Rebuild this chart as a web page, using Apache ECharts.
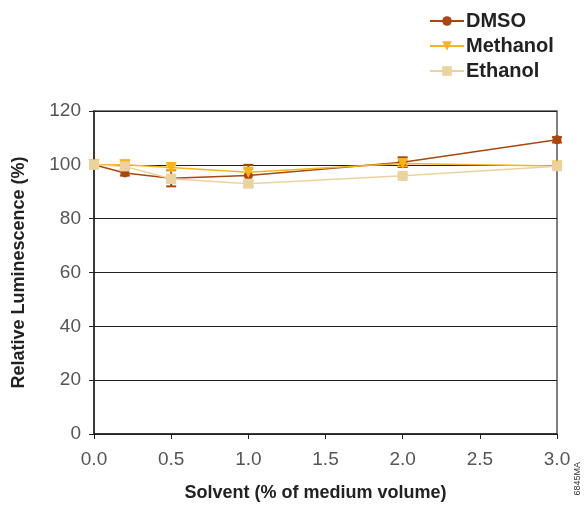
<!DOCTYPE html>
<html><head><meta charset="utf-8">
<script src="https://cdn.jsdelivr.net/npm/echarts@6/dist/echarts.min.js"></script>
<style>html,body{margin:0;padding:0;background:#fff}#c{width:587px;height:507px}</style>
</head><body><div id="c"></div>
<script>
const xValues = [0, 0.2, 0.5, 1.0, 2.0, 3.0];
const dmso = [100, 97, 95, 96, 101, 109.3];
const dmsoErr = [0, 1, 3, 4, 1.8, 1];
const methanol = [100, 100, 99, 97.2, 100.5, 99.6];
const methanolErr = [0, 1.6, 0.8, 1.2, 1, 0.5];
const ethanol = [100, 99.4, 94.8, 93, 95.9, 99.5];
const ethanolErr = [0, 1.5, 1.5, 1, 0.6, 1.2];
const seriesNames = ['DMSO', 'Methanol', 'Ethanol'];
const colors = ['#a8470f', '#f8b41a', '#ebd3a0'];

const pairs = (ys) => xValues.map((x, i) => [x, ys[i]]);
const errData = (ys, es) => xValues.map((x, i) => [x, ys[i] - es[i], ys[i] + es[i]]);

function errSeries(name, ys, es, color) {
  return {
    type: 'custom', name: name + ' error', z: 3, silent: true,
    data: errData(ys, es),
    renderItem: function (params, api) {
      const lo = api.coord([api.value(0), api.value(1)]);
      const hi = api.coord([api.value(0), api.value(2)]);
      const w = 5;
      const st = { stroke: color, lineWidth: 2 };
      return { type: 'group', children: [
        { type: 'line', shape: { x1: lo[0], y1: lo[1], x2: hi[0], y2: hi[1] }, style: st },
        { type: 'line', shape: { x1: lo[0] - w, y1: lo[1], x2: lo[0] + w, y2: lo[1] }, style: st },
        { type: 'line', shape: { x1: hi[0] - w, y1: hi[1], x2: hi[0] + w, y2: hi[1] }, style: st }
      ]};
    }
  };
}

const axisFont = { fontFamily: 'Liberation Sans', fontSize: 19, color: '#555' };
const titleFont = { fontFamily: 'Liberation Sans', fontWeight: 'bold', fontSize: 18, color: '#222' };

const chart = echarts.init(document.getElementById('c'), null, { renderer: 'canvas' });
chart.setOption({
  animation: false,
  color: colors,
  grid: { left: 94, right: 30, top: 111, bottom: 72, show: true, borderColor: '#555', borderWidth: 1.5, backgroundColor: 'transparent' },
  legend: {
    orient: 'vertical', left: 424, top: 4, itemGap: 1, itemWidth: 34, itemHeight: 12,
    data: seriesNames,
    textStyle: { fontFamily: 'Liberation Sans', fontWeight: 'bold', fontSize: 20, lineHeight: 24, color: '#222', padding: [0, 0, 0, -3] }
  },
  xAxis: {
    type: 'value', min: 0, max: 3, interval: 0.5,
    axisLine: { show: true, lineStyle: { color: '#222', width: 1.5 } },
    axisTick: { show: true, length: 5, lineStyle: { color: '#222' } },
    splitLine: { show: false },
    axisLabel: Object.assign({ margin: 16, formatter: v => v.toFixed(1) }, axisFont),
    name: 'Solvent (% of medium volume)', nameLocation: 'middle', nameGap: 50,
    nameTextStyle: Object.assign({ padding: [0, 20, 0, 0] }, titleFont)
  },
  yAxis: [{
    type: 'value', min: 0, max: 120, interval: 20,
    axisLine: { show: true, lineStyle: { color: '#222', width: 1.5 } },
    axisTick: { show: true, length: 5, lineStyle: { color: '#222' } },
    splitLine: { show: true, lineStyle: { color: '#222', width: 1 } },
    axisLabel: Object.assign({ margin: 13 }, axisFont),
    name: 'Relative Luminescence (%)', nameLocation: 'middle', nameGap: 66, nameRotate: 90,
    nameTextStyle: titleFont
  }, {
    type: 'value', min: 0, max: 120, interval: 20, position: 'left', offset: 0,
    axisLine: { show: false },
    axisTick: { show: true, inside: true, length: 5, lineStyle: { color: '#222' } },
    splitLine: { show: false }, axisLabel: { show: false }
  }],
  graphic: [{
    type: 'text', left: 573, top: 462, rotation: Math.PI / 2,
    style: { text: '6845MA', fontFamily: 'Liberation Sans', fontSize: 9, fill: '#333' }
  }],
  series: [
    errSeries('DMSO', dmso, dmsoErr, colors[0]),
    errSeries('Methanol', methanol, methanolErr, colors[1]),
    errSeries('Ethanol', ethanol, ethanolErr, colors[2]),
    { name: 'DMSO', type: 'line', data: pairs(dmso), symbol: 'circle', symbolSize: 9, z: 4,
      lineStyle: { width: 1.5, color: colors[0] }, itemStyle: { color: colors[0] } },
    { name: 'Methanol', type: 'line', data: pairs(methanol), symbol: 'triangle', symbolRotate: 180, symbolSize: 11, z: 5,
      lineStyle: { width: 1.5, color: colors[1] }, itemStyle: { color: colors[1] } },
    { name: 'Ethanol', type: 'line', data: pairs(ethanol), symbol: 'rect', symbolSize: 10, z: 6,
      lineStyle: { width: 1.5, color: colors[2] }, itemStyle: { color: colors[2] } }
  ]
});
</script></body></html>
